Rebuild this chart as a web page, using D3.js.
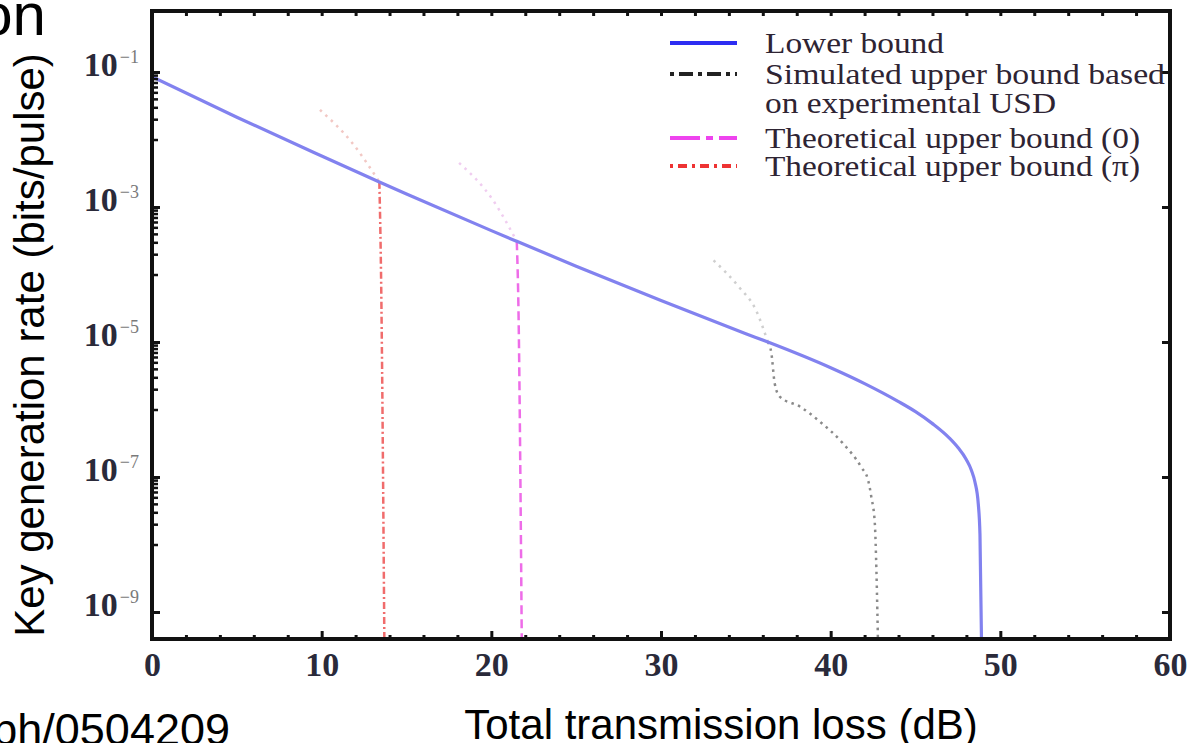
<!DOCTYPE html>
<html>
<head>
<meta charset="utf-8">
<script src="https://cdn.jsdelivr.net/npm/d3@7"></script>
<style>
  body { margin: 0; background: #fff; }
  svg { display: block; }
</style>
</head>
<body>
<div id="chart"></div>
<script>
// x ticks (dB) and y tick exponents
const lossTicks = [0, 10, 20, 30, 40, 50, 60];
const rateExponents = [-1, -3, -5, -7, -9];

// Lower bound (solid blue)
const lowerLoss = [0, 5, 10, 13.4, 15, 20, 21.5, 25, 30, 35, 36.3, 40, 42, 44, 45, 46, 47, 47.5, 48, 48.3, 48.5, 48.7, 48.8, 48.9];
const lowerRate = [8.5e-2, 2.14e-2, 5.7e-3, 2.35e-3, 1.56e-3, 4.47e-4, 3.1e-4, 1.33e-4, 4.12e-5, 1.33e-5, 1.0e-5, 4.16e-6, 2.42e-6, 1.31e-6, 9.3e-7, 6.18e-7, 3.77e-7, 2.74e-7, 1.8e-7, 1.25e-7, 8.5e-8, 4.0e-8, 1.41e-8, 2.5e-10];

// Simulated upper bound based on experimental USD (black dotted)
const simFaintLoss = [33.1, 34.6, 35.6, 36.3];
const simFaintRate = [1.62e-4, 6.5e-5, 2.95e-5, 1.0e-5];
const simLoss = [36.3, 36.5, 36.7, 37.0, 38.2, 39.4, 40.7, 41.8, 42.2, 42.4, 42.6, 42.7, 42.8];
const simRate = [1.0e-5, 7.0e-6, 2.45e-6, 1.55e-6, 1.1e-6, 6.5e-7, 3.2e-7, 1.4e-7, 9.1e-8, 5.0e-8, 2.1e-8, 3.8e-9, 2.5e-10];

// Theoretical upper bound (0) (magenta dashed)
const zeroFaintLoss = [18.1, 20.1, 21.5];
const zeroFaintRate = [4.5e-3, 1.26e-3, 3.1e-4];
const zeroLoss = [21.5, 21.6, 21.8];
const zeroRate = [3.1e-4, 3.0e-5, 2.5e-10];

// Theoretical upper bound (pi) (red dash-dot)
const piFaintLoss = [9.9, 11.8, 13.4];
const piFaintRate = [2.75e-2, 8.9e-3, 2.35e-3];
const piLoss = [13.4, 13.5, 13.7];
const piRate = [2.35e-3, 1.0e-4, 2.5e-10];

const legendLabels = [
  ['Lower bound'],
  ['Simulated upper bound based', 'on experimental USD'],
  ['Theoretical upper bound (0)'],
  ['Theoretical upper bound (\u03c0)']
];

const SANS = '"Liberation Sans", Arial, "DejaVu Sans", sans-serif';
const SERIF = '"Liberation Serif", "Times New Roman", "DejaVu Serif", serif';

const W = 1196, H = 743;
const plot = { left: 152, right: 1170, top: 11, bottom: 639 };

const svg = d3.select('#chart').append('svg')
  .attr('width', W)
  .attr('height', H)
  .attr('viewBox', [0, 0, W, H]);

const x = d3.scaleLinear().domain([0, 60]).range([plot.left, plot.right]);
const y = d3.scaleLog()
  .domain([Math.pow(10, -9.4), Math.pow(10, -0.096)])
  .range([plot.bottom, plot.top]);

// clip for curves
svg.append('defs').append('clipPath').attr('id', 'plot-clip')
  .append('rect')
  .attr('x', plot.left).attr('y', plot.top)
  .attr('width', plot.right - plot.left)
  .attr('height', plot.bottom - plot.top);

function zip(a, b) {
  return a.map(function (v, i) { return [v, b[i]]; });
}

const line = d3.line()
  .x(function (d) { return x(d[0]); })
  .y(function (d) { return y(d[1]); })
  .curve(d3.curveMonotoneX);

const curves = [
  // faint parts above the lower bound
  { pts: zip(piFaintLoss, piFaintRate), color: '#f2c8c4', width: 2.5, dash: '2.5,5' },
  { pts: zip(zeroFaintLoss, zeroFaintRate), color: '#f0cdf0', width: 2.5, dash: '2.5,5' },
  { pts: zip(simFaintLoss, simFaintRate), color: '#cfcfcf', width: 2.5, dash: '2.5,5' },
  // visible parts
  { pts: zip(piLoss, piRate), color: '#f06c6c', width: 2.5, dash: '7,3,2,3' },
  { pts: zip(zeroLoss, zeroRate), color: '#ee6ce8', width: 2.5, dash: '9,5' },
  { pts: zip(simLoss, simRate), color: '#8a8a8a', width: 2.5, dash: '2.5,4.5' },
  { pts: zip(lowerLoss, lowerRate), color: '#8282ef', width: 3.2, dash: null }
];

const gLines = svg.append('g').attr('clip-path', 'url(#plot-clip)');
gLines.selectAll('path')
  .data(curves)
  .join('path')
  .attr('fill', 'none')
  .attr('stroke', function (d) { return d.color; })
  .attr('stroke-width', function (d) { return d.width; })
  .attr('stroke-dasharray', function (d) { return d.dash; })
  .attr('d', function (d) { return line(d.pts); });

// --- axes (ticks point inward) ---
const minorLoss = d3.range(0, 61, 2).filter(function (v) { return lossTicks.indexOf(v) < 0; });
const yMajor = rateExponents.map(function (e) { return Math.pow(10, e); });
const yMinor = [];
rateExponents.slice(0, 4).forEach(function (e) {
  for (let m = 1; m <= 9; m++) yMinor.push(m * Math.pow(10, e - 1));
});

function styleAxis(g) {
  g.select('.domain').remove();
  g.selectAll('.tick line').attr('stroke', '#111').attr('stroke-width', 3);
}

// bottom
svg.append('g')
  .attr('transform', 'translate(0,' + plot.bottom + ')')
  .call(d3.axisBottom(x).tickValues(minorLoss).tickSize(-4).tickFormat(''))
  .call(styleAxis);

const xAxis = svg.append('g')
  .attr('transform', 'translate(0,' + plot.bottom + ')')
  .call(d3.axisBottom(x).tickValues(lossTicks).tickSizeInner(-8).tickSizeOuter(0).tickPadding(13))
  .call(styleAxis);
xAxis.selectAll('.tick text')
  .attr('font-family', SERIF)
  .attr('font-weight', 'bold')
  .attr('font-size', 34)
  .attr('fill', '#2a2a3a');

// top
svg.append('g')
  .attr('transform', 'translate(0,' + plot.top + ')')
  .call(d3.axisTop(x).tickValues(d3.range(0, 61, 2)).tickSize(-5).tickFormat(''))
  .call(styleAxis);

// left
svg.append('g')
  .attr('transform', 'translate(' + plot.left + ',0)')
  .call(d3.axisLeft(y).tickValues(yMinor).tickSize(-6).tickFormat(''))
  .call(styleAxis)
  .selectAll('.tick line').attr('stroke-width', 2.5);

const yAxis = svg.append('g')
  .attr('transform', 'translate(' + plot.left + ',0)')
  .call(d3.axisLeft(y).tickValues(yMajor).tickSize(-8).tickFormat(''))
  .call(styleAxis);

yAxis.selectAll('.tick').each(function (d) {
  const t = d3.select(this).append('text')
    .attr('x', -13)
    .attr('dy', '0.3em')
    .attr('text-anchor', 'end')
    .attr('font-family', SERIF)
    .attr('fill', '#2a2a3a');
  t.append('tspan')
    .attr('font-size', 34)
    .attr('font-weight', 'bold')
    .text('10');
  t.append('tspan')
    .attr('font-size', 18)
    .attr('dx', 2)
    .attr('dy', -13)
    .attr('fill', '#7a7a7a')
    .text('\u2212' + Math.round(-Math.log10(d)));
});

// right
svg.append('g')
  .attr('transform', 'translate(' + plot.right + ',0)')
  .call(d3.axisRight(y).tickValues(yMajor).tickSize(-8).tickFormat(''))
  .call(styleAxis);

// frame
svg.append('rect')
  .attr('x', plot.left).attr('y', plot.top)
  .attr('width', plot.right - plot.left)
  .attr('height', plot.bottom - plot.top)
  .attr('fill', 'none')
  .attr('stroke', '#111')
  .attr('stroke-width', 4);

// --- legend ---
const legendStyles = [
  { color: '#2d2df2', dash: null, rows: [43], widths: [179] },
  { color: '#222', dash: '4,5,14,5', rows: [74, 103], widths: [400, 291] },
  { color: '#ee44ee', dash: '30,6,7,6', rows: [138], widths: [375] },
  { color: '#ee3333', dash: '3,5,9,5', rows: [166], widths: [375] }
];
const legend = svg.append('g');
legendLabels.forEach(function (lines, i) {
  const st = legendStyles[i];
  legend.append('line')
    .attr('x1', 670).attr('x2', 737)
    .attr('y1', st.rows[0]).attr('y2', st.rows[0])
    .attr('stroke', st.color)
    .attr('stroke-width', 4)
    .attr('stroke-dasharray', st.dash);
  lines.forEach(function (txt, j) {
    legend.append('text')
      .attr('x', 765)
      .attr('y', st.rows[j])
      .attr('dy', '0.33em')
      .attr('font-family', SERIF)
      .attr('font-size', 30)
      .attr('textLength', st.widths[j])
      .attr('lengthAdjust', 'spacingAndGlyphs')
      .attr('fill', '#2e2433')
      .text(txt);
  });
});

// --- axis titles and slide fragments ---
svg.append('text')
  .attr('transform', 'translate(44,345) rotate(-90)')
  .attr('text-anchor', 'middle')
  .attr('font-family', SANS)
  .attr('font-size', 42)
  .attr('fill', '#000')
  .text('Key generation rate (bits/pulse)');

svg.append('text')
  .attr('x', 721).attr('y', 739)
  .attr('text-anchor', 'middle')
  .attr('font-family', SANS)
  .attr('font-size', 42)
  .attr('fill', '#000')
  .text('Total transmission loss (dB)');

svg.append('text')
  .attr('x', 46).attr('y', 35)
  .attr('text-anchor', 'end')
  .attr('font-family', SANS)
  .attr('font-size', 60)
  .attr('fill', '#000')
  .text('on');

svg.append('text')
  .attr('x', 230).attr('y', 745)
  .attr('text-anchor', 'end')
  .attr('font-family', SANS)
  .attr('font-size', 45)
  .attr('fill', '#000')
  .text('ph/0504209');
</script>
</body>
</html>
